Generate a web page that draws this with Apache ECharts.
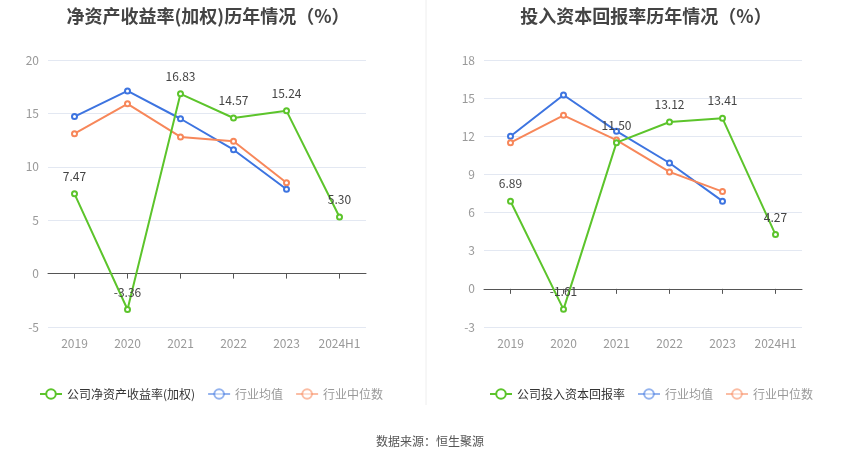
<!DOCTYPE html>
<html><head><meta charset="utf-8">
<script src="https://cdn.jsdelivr.net/npm/echarts@6/dist/echarts.min.js"></script>
<style>html,body{margin:0;padding:0;background:#fff}#c{width:850px;height:459px}</style>
</head><body><div id="c"></div>
<script>
const categories = ['2019','2020','2021','2022','2023','2024H1'];
const roeCompany = [7.47, -3.36, 16.83, 14.57, 15.24, 5.30];
const roeAvg = [14.7, 17.1, 14.5, 11.6, 7.9];
const roeMedian = [13.1, 15.9, 12.8, 12.4, 8.5];
const roicCompany = [6.89, -1.61, 11.50, 13.12, 13.41, 4.27];
const roicAvg = [12.0, 15.25, 12.4, 9.9, 6.9];
const roicMedian = [11.5, 13.65, 11.7, 9.2, 7.65];
const leftTitle = '净资产收益率(加权)历年情况（%）';
const rightTitle = '投入资本回报率历年情况（%）';
const leftNames = ['公司净资产收益率(加权)', '行业均值', '行业中位数'];
const rightNames = ['公司投入资本回报率', '行业均值', '行业中位数'];
const sourceText = '数据来源：恒生聚源';

const GREEN = '#5cc42b', BLUE = '#3d74e0', ORANGE = '#f7875a';
const font = '"Noto Sans CJK SC", "Noto Sans", sans-serif';

function legendData(names) {
  return [
    {name: names[0], textStyle: {color: '#333'}},
    {name: names[1], textStyle: {color: '#999'}, itemStyle: {opacity: 0.55}, lineStyle: {opacity: 0.55}},
    {name: names[2], textStyle: {color: '#999'}, itemStyle: {opacity: 0.55}, lineStyle: {opacity: 0.55}}
  ];
}
function xAxes(gi) {
  return [
    {type: 'category', gridIndex: gi, data: categories, boundaryGap: true,
     axisLine: {show: false, onZero: false}, axisTick: {show: false},
     axisLabel: {color: '#999', fontSize: 12, margin: 10, interval: 0, fontFamily: font}},
    {type: 'category', gridIndex: gi, data: categories, boundaryGap: true, position: 'bottom',
     axisLine: {show: true, onZero: true, lineStyle: {color: '#555'}},
     axisTick: {show: true, alignWithLabel: true, interval: 0, length: 5, lineStyle: {color: '#555'}},
     axisLabel: {show: false}}
  ];
}
function yAxis(gi, min, max, interval) {
  return {type: 'value', gridIndex: gi, min: min, max: max, interval: interval,
    axisLine: {show: false}, axisTick: {show: false},
    axisLabel: {color: '#999', fontSize: 12, margin: 9, fontFamily: font},
    splitLine: {lineStyle: {color: '#e3e8f2'}}};
}
function line(name, data, color, xi, yi, label) {
  return {type: 'line', name: name, data: data, xAxisIndex: xi, yAxisIndex: yi,
    symbol: 'emptyCircle', symbolSize: 5, color: color,
    lineStyle: {width: 2, color: color}, itemStyle: {color: color, borderWidth: 1.5},
    label: label ? {show: true, position: 'top', color: '#444', fontSize: 12, distance: 8, fontFamily: font,
      formatter: p => p.value.toFixed(2)} : {show: false},
    z: label ? 3 : 2};
}

const chart = echarts.init(document.getElementById('c'));
chart.setOption({
  animation: false,
  textStyle: {fontFamily: font},
  title: [
    {text: leftTitle, left: 203, top: 2, textAlign: 'center',
     textStyle: {fontSize: 18, fontWeight: 'bold', color: '#444', fontFamily: font}},
    {text: rightTitle, left: 641, top: 2, textAlign: 'center',
     textStyle: {fontSize: 18, fontWeight: 'bold', color: '#444', fontFamily: font}},
    {text: sourceText, left: 425, top: 430, textAlign: 'center',
     textStyle: {fontSize: 12, fontWeight: 'normal', color: '#555', fontFamily: font}}
  ],
  legend: [
    {data: legendData(leftNames), left: 34, top: 383, itemWidth: 22, itemHeight: 12, itemGap: 12,
     textStyle: {fontSize: 12, fontFamily: font}, selectedMode: false},
    {data: legendData(rightNames), left: 484, top: 383, itemWidth: 22, itemHeight: 12, itemGap: 12,
     textStyle: {fontSize: 12, fontFamily: font}, selectedMode: false}
  ],
  graphic: [{type: 'line', shape: {x1: 426, y1: 0, x2: 426, y2: 405}, style: {stroke: '#eeeeee', lineWidth: 1}}],
  grid: [
    {left: 48, top: 60, width: 318, height: 267},
    {left: 484, top: 60, width: 318, height: 267}
  ],
  xAxis: [...xAxes(0), ...xAxes(1)],
  yAxis: [yAxis(0, -5, 20, 5), yAxis(1, -3, 18, 3)],
  series: [
    line(leftNames[1], roeAvg, BLUE, 0, 0, false),
    line(leftNames[2], roeMedian, ORANGE, 0, 0, false),
    line(leftNames[0], roeCompany, GREEN, 0, 0, true),
    line(rightNames[1], roicAvg, BLUE, 2, 1, false),
    line(rightNames[2], roicMedian, ORANGE, 2, 1, false),
    line(rightNames[0], roicCompany, GREEN, 2, 1, true)
  ]
});
</script></body></html>
